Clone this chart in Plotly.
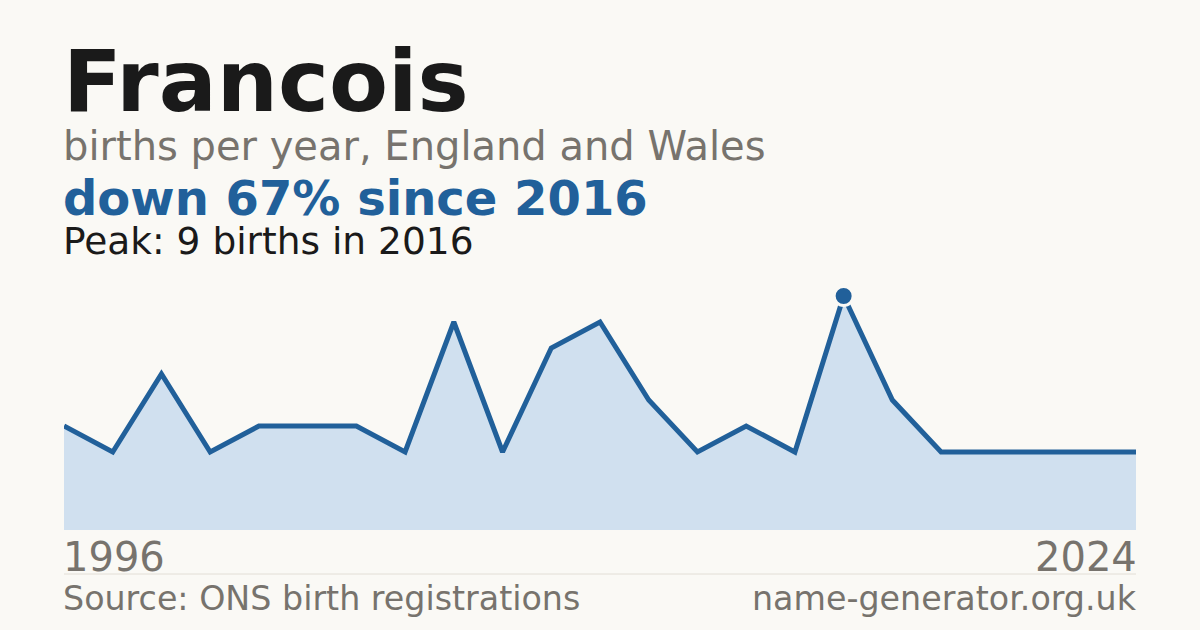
import plotly.graph_objects as go

# Data: births per year (years with suppressed counts are absent)
years = [1996, 1997, 1998, 1999, 2000, 2001, 2002, 2003, 2005, 2006, 2007, 2008,
         2009, 2011, 2013, 2014, 2016, 2017, 2018, 2020, 2021, 2023, 2024]
births = [4, 3, 6, 3, 4, 4, 4, 3, 8, 3, 7, 8, 5, 3, 4, 3, 9, 5, 3, 3, 3, 3, 3]

name = "Francois"
subtitle = "births per year, England and Wales"
peak_val = max(births)
peak_idx = births.index(peak_val)
peak_year = years[peak_idx]
change = round((births[-1] - peak_val) / peak_val * 100)

colors = {
    'bg': '#FAF9F5', 'ink': '#1A1A1A', 'grey': '#77736D',
    'blue': '#21609A', 'fill': '#D0E0EF', 'rule': '#E2DED6'
}

x_idx = list(range(len(years)))

fig = go.Figure()
fig.add_trace(go.Scatter(
    x=x_idx, y=births, mode='lines',
    line=dict(color=colors['blue'], width=5),
    fill='tozeroy', fillcolor=colors['fill'],
    hoverinfo='skip'
))
fig.add_trace(go.Scatter(
    x=[peak_idx], y=[peak_val], mode='markers',
    marker=dict(size=19, color=colors['blue'], line=dict(color=colors['bg'], width=3)),
    hoverinfo='skip'
))

# plot area: 260px tall, bottom at 530px
top_px, bottom_px = 270, 530


def py(px):
    return (bottom_px - px) / (bottom_px - top_px)


texts = [
    (name, 0, py(81), 'left', 86, colors['ink'], True),
    (subtitle, 0, py(146), 'left', 40, colors['grey'], False),
    (f"down {abs(change)}% since {peak_year}", 0, py(198), 'left', 48, colors['blue'], True),
    (f"Peak: {peak_val} births in {peak_year}", 0, py(241), 'left', 37.5, colors['ink'], False),
    (str(years[0]), 0, py(557), 'left', 40, colors['grey'], False),
    (str(years[-1]), 1, py(557), 'right', 40, colors['grey'], False),
    ("Source: ONS birth registrations", 0, py(598), 'left', 33.3, colors['grey'], False),
    ("name-generator.org.uk", 1, py(598), 'right', 33.3, colors['grey'], False),
]
for txt, x, y, anchor, size, color, bold in texts:
    fig.add_annotation(
        text=f"<b>{txt}</b>" if bold else txt,
        x=x, y=y, xref='paper', yref='paper',
        xanchor=anchor, yanchor='middle', showarrow=False,
        xshift=-3 if anchor == 'left' else 3,
        font=dict(size=size, color=color, family='DejaVu Sans')
    )

fig.add_shape(type='line', xref='paper', yref='paper',
              x0=0, x1=1, y0=py(574), y1=py(574),
              line=dict(color=colors['rule'], width=1))

fig.update_layout(
    width=1200, height=630,
    paper_bgcolor=colors['bg'], plot_bgcolor=colors['bg'],
    margin=dict(l=64, r=64, t=top_px, b=630 - bottom_px),
    showlegend=False,
    xaxis=dict(range=[0, len(years) - 1], visible=False, fixedrange=True),
    yaxis=dict(range=[0, 10], visible=False, fixedrange=True),
    font_family='DejaVu Sans'
)

fig.write_html("out.html", config={'displayModeBar': False},
               post_script="document.body.style.margin='0';")
